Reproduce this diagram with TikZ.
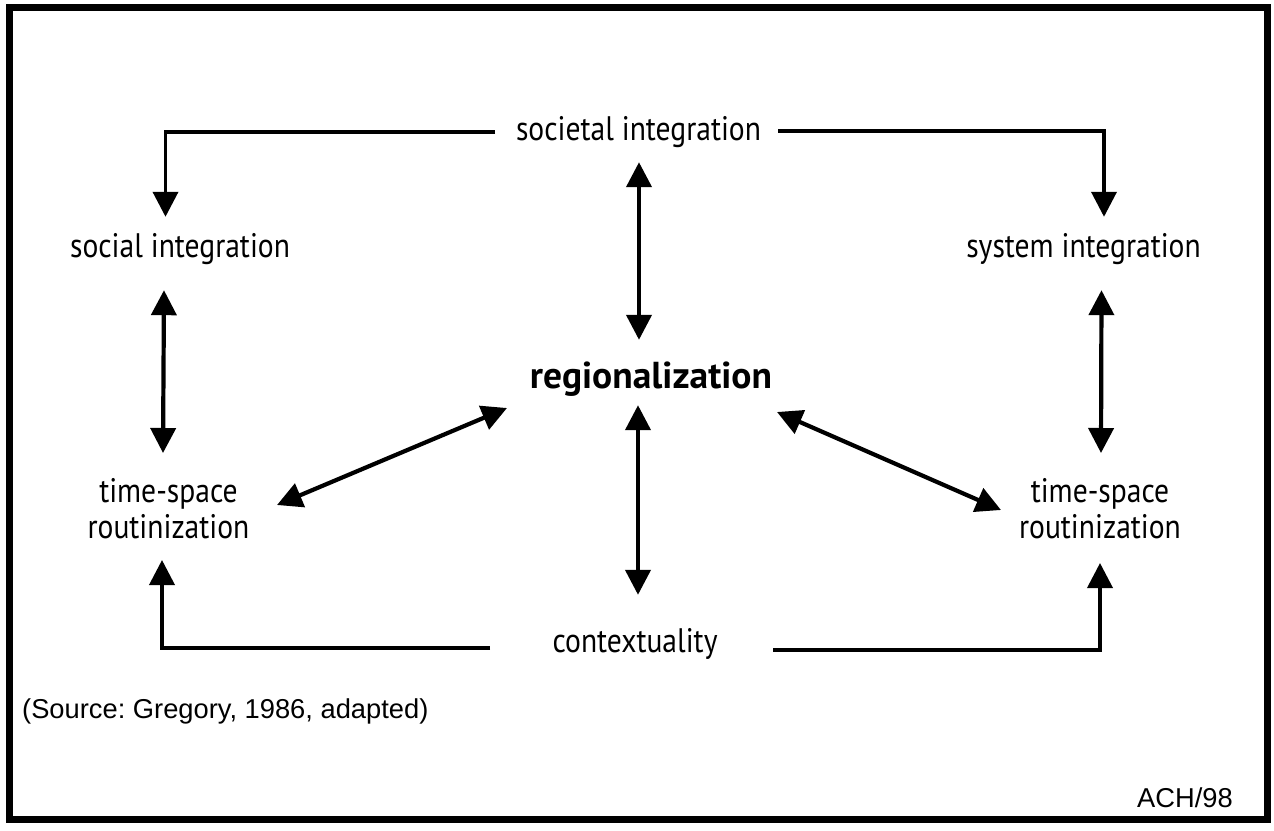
\documentclass[tikz,border=0pt]{standalone}
\usepackage{fontspec}
\usetikzlibrary{arrows.meta,calc}
\newfontfamily\labfont[FakeStretch=0.87]{PT Sans}
\newfontfamily\regfont{PT Sans}
\newfontfamily\notefont{Liberation Sans}
\frenchspacing

\begin{document}
\begin{tikzpicture}[x=1pt,y=-1pt,
  lab/.style={inner sep=0pt,text height=24pt,text depth=8pt,
    font=\labfont\fontsize{34}{36}\selectfont},
  twolab/.style={inner sep=0pt,align=center,
    font=\labfont\fontsize{34}{36}\selectfont},
  reglab/.style={inner sep=0pt,text height=28pt,text depth=9pt,
    font=\regfont\bfseries\fontsize{37.5}{40}\selectfont},
  note/.style={inner sep=0pt,font=\notefont\fontsize{27.3}{30}\selectfont},
  tip/.style={-{Triangle[width=25pt,length=25pt]}},
  conn/.style={line width=3.8pt,tip},
  biconn/.style={line width=4.2pt,{Triangle[width=25pt,length=25pt]}-{Triangle[width=25pt,length=25pt]}}]

\useasboundingbox (0,0) rectangle (1274,830);
% frame
\draw[line width=7pt] (9.5,7.5) rectangle (1267,819.5);

% labels
\node[lab,anchor=base] (soc) at (638.5,140) {societal integration};
\node[lab,anchor=base] (socl) at (180,257) {social integration};
\node[lab,anchor=base] (sys) at (1083.5,257) {system integration};
\node[reglab,anchor=base] (reg) at (651,388) {regionalization};
\node[twolab] (tsl) at (168.5,509) {time-space\\routinization};
\node[twolab] (tsr) at (1100,509) {time-space\\routinization};
\node[lab,anchor=base] (ctx) at (635,652) {contextuality};
\node[note,anchor=base west] (src) at (22,718) {(Source: Gregory, 1986, adapted)};
\node[note,anchor=base east] (ach) at (1233,807) {ACH/98};

% elbow connectors from the top and bottom labels
\draw[conn] ($(soc.center)+(-143.5,0)$) -| ($(socl.north)+(-14.5,-16)$);
\draw[conn] ($(soc.center)+(139.5,-1)$) -| ($(sys.north)+(20.5,-16)$);
\draw[conn] ($(ctx.center)+(-145,4)$) -| ($(tsl.center)+(-6.5,51)$);
\draw[conn] ($(ctx.center)+(138,6)$) -| ($(tsr.center)+(0,54)$);

% two-way links
\draw[biconn] ($(soc.south)+(0.5,14)$) -- ($(soc.south |- reg.north)+(0.5,-20)$);
\draw[biconn] ($(socl.south)+(-16,25)$) -- ($(tsl.center)+(-5.5,-56)$);
\draw[biconn] ($(sys.south)+(18,25)$) -- ($(tsr.center)+(1,-56)$);
\draw[biconn] ($(reg.south)+(-13,8)$) -- ($(reg.south |- ctx.north)+(-13,-33)$);
\draw[biconn] ($(reg.center)+(-144,29.5)$) -- ($(tsl.center)+(108.5,-4)$);
\draw[biconn] ($(reg.center)+(126,33.5)$) -- ($(tsr.center)+(-99,1)$);
\end{tikzpicture}
\end{document}
